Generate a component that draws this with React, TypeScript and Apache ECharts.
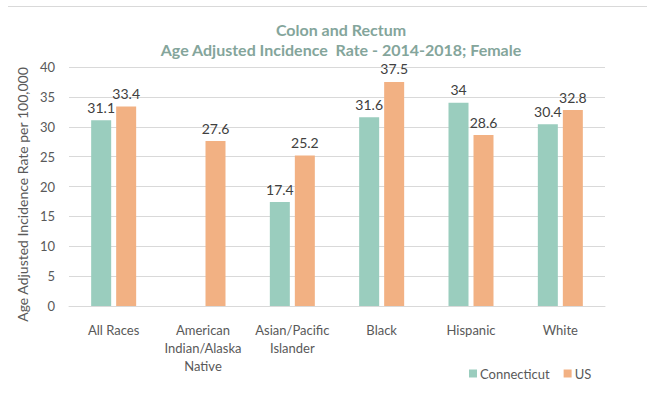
import React, { useEffect, useRef } from "react";
import * as echarts from "echarts";

const categories = ["All Races", "American\nIndian/Alaska\nNative", "Asian/Pacific\nIslander", "Black", "Hispanic", "White"];
const connecticut: (number | null)[] = [31.1, null, 17.4, 31.6, 34, 30.4];
const us: number[] = [33.4, 27.6, 25.2, 37.5, 28.6, 32.8];
const yTicks = { min: 0, max: 40, interval: 5 };

export default function App() {
  const ref = useRef<HTMLDivElement>(null);
  useEffect(() => {
    document.body.style.margin = "0";
    const chart = echarts.init(ref.current!, undefined, { renderer: "svg" });
    const font = "Lato, 'Open Sans', sans-serif";
    chart.setOption({
      animation: false,
      backgroundColor: "#fff",
      textStyle: { fontFamily: font },
      title: {
        text: "Colon and Rectum\nAge Adjusted Incidence  Rate - 2014-2018; Female",
        left: 336,
        textAlign: "center",
        top: 14,
        textStyle: { fontSize: 16, fontWeight: "bold", color: "#84A59B", lineHeight: 20, fontFamily: font },
      },
      graphic: [
        { type: "line", shape: { x1: 8, y1: 6.5, x2: 647, y2: 6.5 }, style: { stroke: "#d9d9d9", lineWidth: 1 } },
      ],
      legend: {
        left: 464,
        top: 362,
        itemWidth: 8,
        itemHeight: 8,
        itemGap: 14,
        icon: "rect",
        textStyle: { fontSize: 13, color: "#595959", fontFamily: font, padding: [0, 0, 0, -2] },
        data: ["Connecticut", "US"],
      },
      grid: { left: 69, right: 42, top: 67, bottom: 88, containLabel: false },
      xAxis: {
        type: "category",
        data: categories,
        axisLine: { lineStyle: { color: "#d9d9d9" } },
        axisTick: { show: false },
        axisLabel: { fontSize: 13, color: "#595959", margin: 15, lineHeight: 18, interval: 0 },
      },
      yAxis: {
        type: "value",
        min: yTicks.min,
        max: yTicks.max,
        interval: yTicks.interval,
        name: "Age Adjusted Incidence Rate per 100,000",
        nameLocation: "middle",
        nameGap: 39,
        nameTextStyle: { fontSize: 14, color: "#595959", padding: [0, 16, 0, 0] },
        axisLabel: { fontSize: 13, color: "#595959", margin: 14 },
        splitLine: { lineStyle: { color: "#d9d9d9" } },
        axisLine: { show: false },
        axisTick: { show: false },
      },
      series: [
        {
          name: "Connecticut",
          type: "bar",
          data: connecticut,
          barWidth: 20,
          barGap: "25%",
          itemStyle: { color: "#9ACDBE" },
          label: { show: true, position: "top", fontSize: 14, color: "#404040", distance: 6 },
        },
        {
          name: "US",
          type: "bar",
          data: us,
          barWidth: 20,
          itemStyle: { color: "#F2B183" },
          label: { show: true, position: "top", fontSize: 14, color: "#404040", distance: 6 },
        },
      ],
    });
    return () => chart.dispose();
  }, []);
  return <div ref={ref} style={{ position: "absolute", left: 0, top: 0, width: 647, height: 394 }} />;
}
